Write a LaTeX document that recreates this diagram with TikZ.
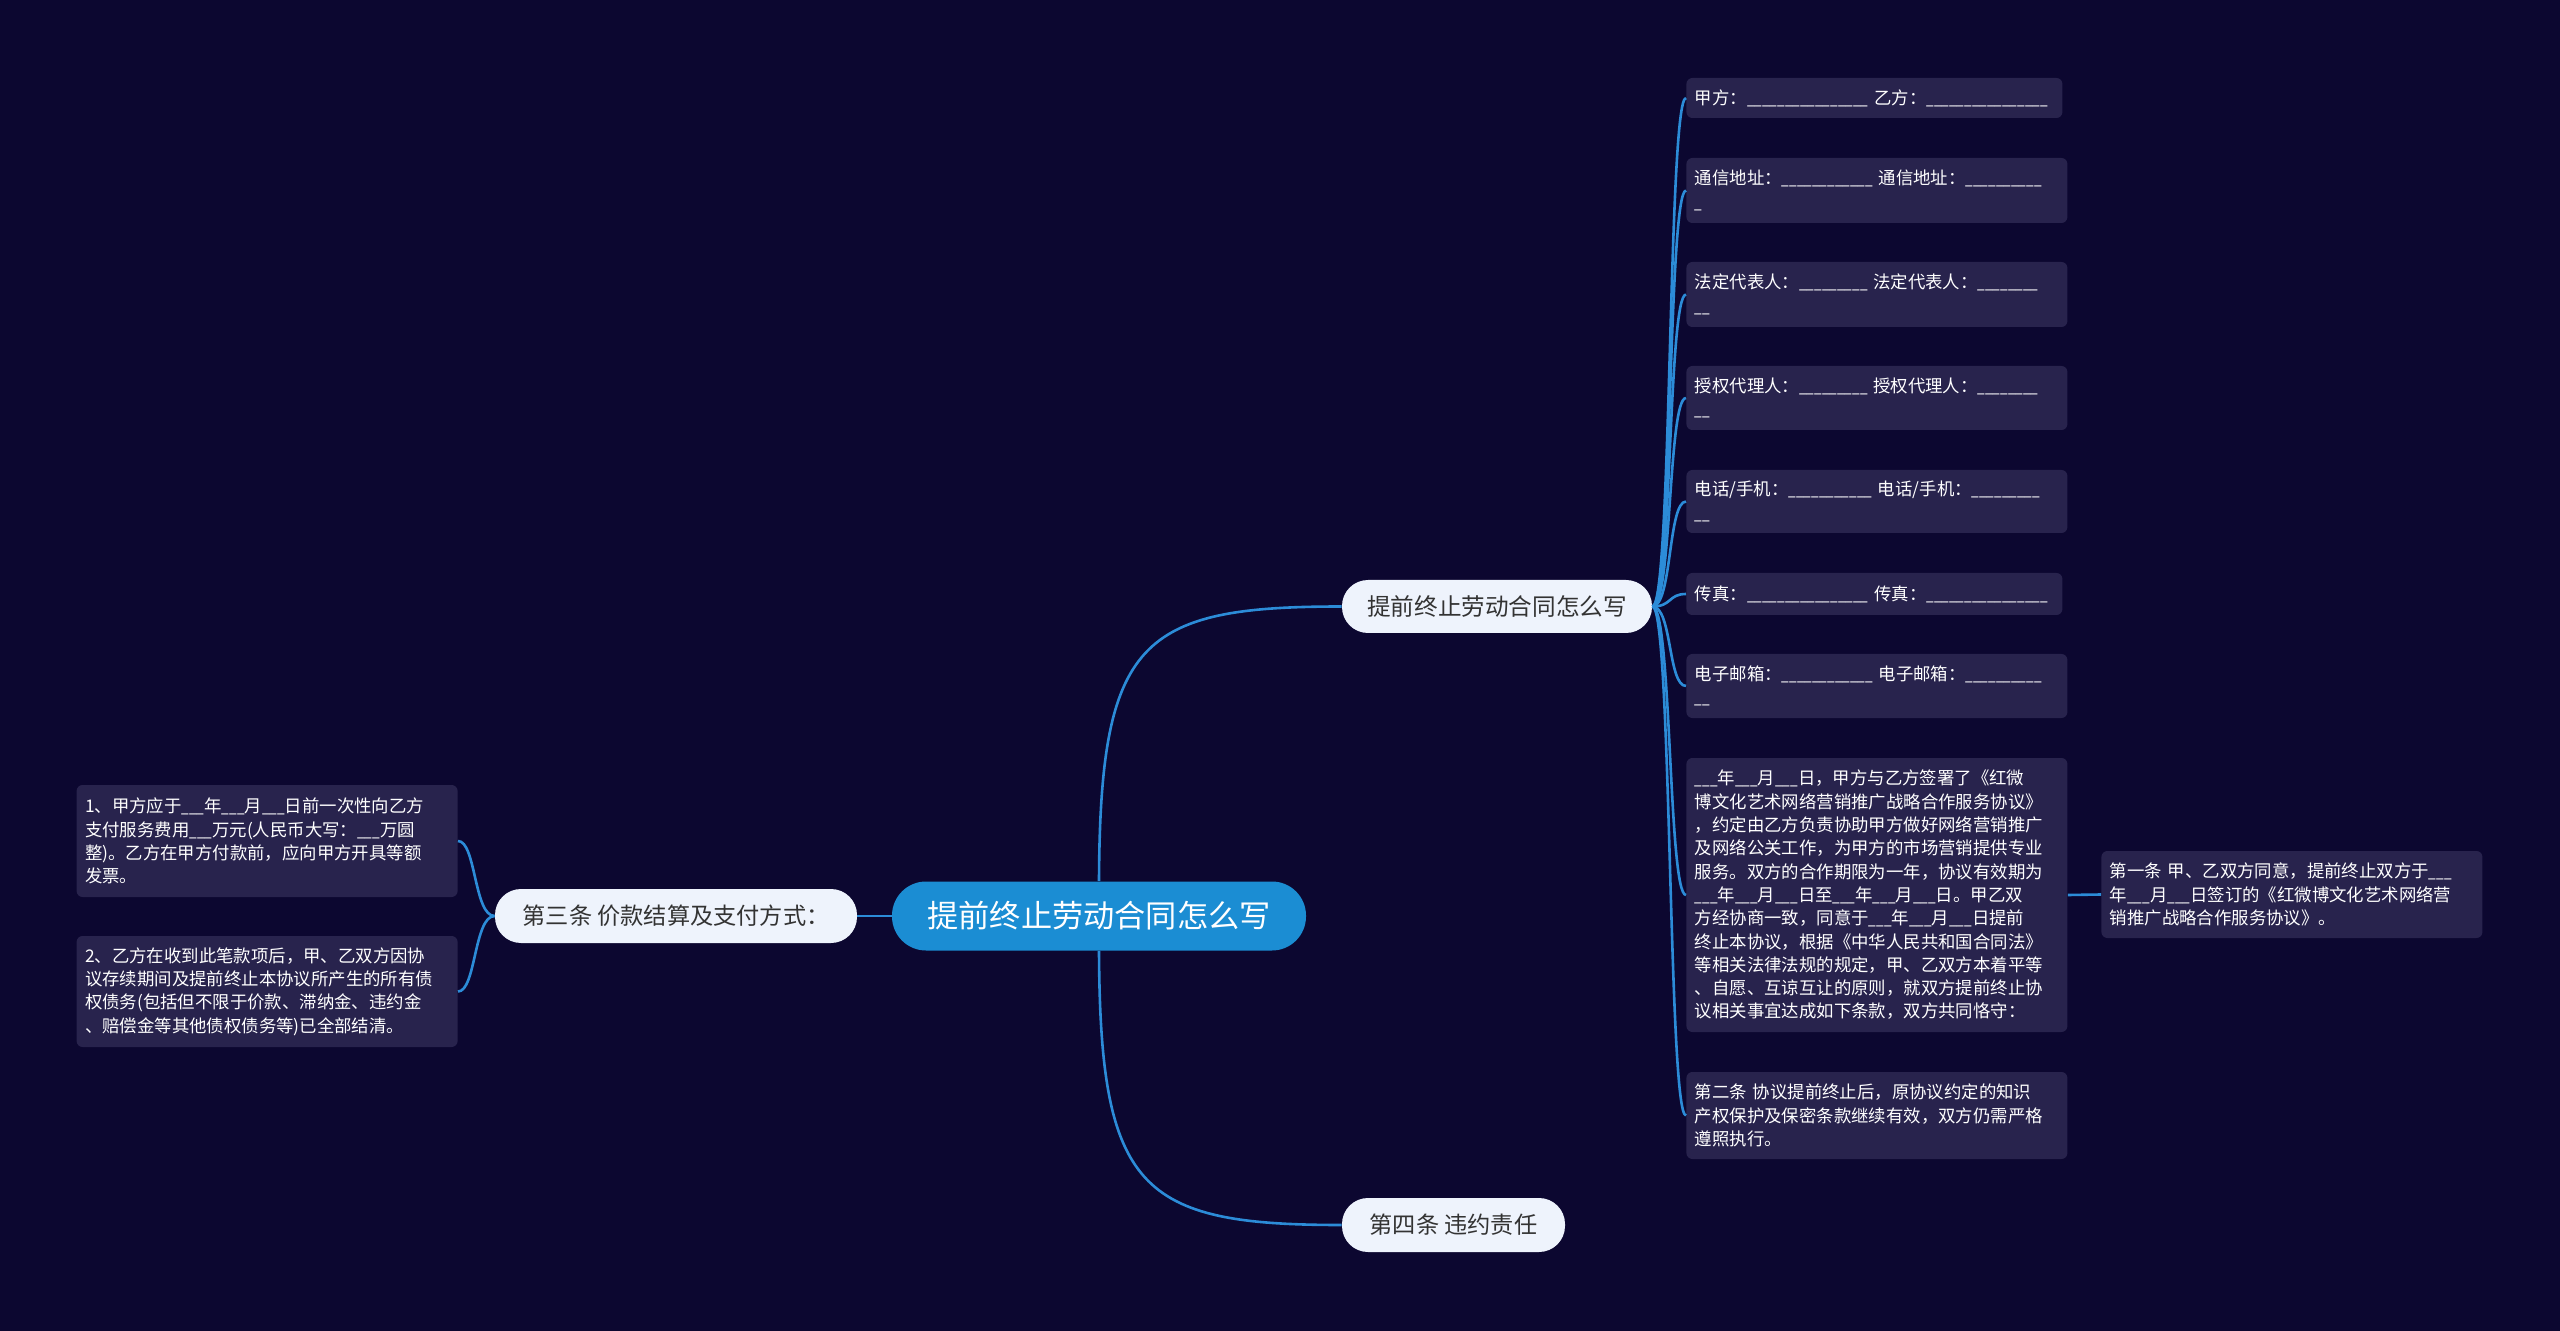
\documentclass[tikz,border=0pt]{standalone}
\usepackage{fontspec}
\setmainfont{Noto Sans CJK SC}
\newfontfamily\usfont[FakeStretch=0.78]{Noto Sans CJK SC}
\definecolor{bgc}{HTML}{0C0730}
\definecolor{boxc}{HTML}{28234D}
\definecolor{lightc}{HTML}{EEF3FC}
\definecolor{mainc}{HTML}{1B8DD3}
\definecolor{linec}{HTML}{2C8CD8}
\definecolor{darkt}{HTML}{333333}
\newcount\blankcnt
\newcommand\blanks[1]{{\usfont\blankcnt=0\relax\loop\_\advance\blankcnt by 1\relax\ifnum\blankcnt<#1\repeat}}
\newcommand\uu{\blanks{3}}
\tikzset{
  boxnode/.style={fill=boxc, text=white, rounded corners=3pt, align=left,
    inner xsep=4.25pt, inner ysep=3pt, text width=182pt,
    font=\fontsize{8.7}{11.65}\selectfont},
  lightnode/.style={fill=lightc, text=darkt, rounded corners=13pt, inner sep=0pt,
    minimum height=26.5pt},
  conn/.style={draw=linec, line width=1.3pt},
}
\begin{document}
\begin{tikzpicture}[x=0.5pt,y=-0.5pt]
\fill[bgc] (0,0) rectangle (2560,1331);

% central node
\node[fill=mainc, text=white, rounded corners=17pt, inner sep=0pt,
  minimum width=207pt, minimum height=34.5pt,
  font=\fontsize{15.6}{18}\selectfont] (c) at (1099,916) {提前终止劳动合同怎么写};

% level 1
\node[lightnode, minimum width=155pt, font=\fontsize{11.8}{14}\selectfont] (n1) at (1497,606.5) {提前终止劳动合同怎么写};
\node[lightnode, minimum width=181pt, minimum height=27pt, font=\fontsize{11.6}{14}\selectfont] (n3) at (676,916) {第三条 价款结算及支付方式：};
\node[lightnode, minimum width=111.5pt, minimum height=27pt, font=\fontsize{11.6}{14}\selectfont] (n4) at (1453.5,1225) {第四条 违约责任};

% right column boxes
\node[boxnode, anchor=west, text width=179.5pt, minimum height=20pt] (b1) at (1686,98)
  {甲方：\blanks{16} 乙方：\blanks{16}};
\node[boxnode, anchor=west, minimum height=32.5pt] (b2) at (1686,190.5)
  {通信地址：\blanks{12} 通信地址：\blanks{10}\\\blanks{1}};
\node[boxnode, anchor=west, minimum height=32.5pt] (b3) at (1686,294.5)
  {法定代表人：\blanks{9} 法定代表人：\blanks{8}\\\blanks{2}};
\node[boxnode, anchor=west, minimum height=32pt] (b4) at (1686,398)
  {授权代理人：\blanks{9} 授权代理人：\blanks{8}\\\blanks{2}};
\node[boxnode, anchor=west, minimum height=31.5pt] (b5) at (1686,501.5)
  {电话/手机：\blanks{11} 电话/手机：\blanks{9}\\\blanks{2}};
\node[boxnode, anchor=west, text width=179.5pt, minimum height=21pt] (b6) at (1686,594)
  {传真：\blanks{16} 传真：\blanks{16}};
\node[boxnode, anchor=west, minimum height=32pt] (b7) at (1686,686)
  {电子邮箱：\blanks{12} 电子邮箱：\blanks{10}\\\blanks{2}};
\node[boxnode, anchor=west, minimum height=137pt] (b8) at (1686,895)
  {\uu 年\uu 月\uu 日，甲方与乙方签署了《红微\\
   博文化艺术网络营销推广战略合作服务协议》\\
   ，约定由乙方负责协助甲方做好网络营销推广\\
   及网络公关工作，为甲方的市场营销提供专业\\
   服务。双方的合作期限为一年，协议有效期为\\
   \uu 年\uu 月\uu 日至\uu 年\uu 月\uu 日。甲乙双\\
   方经协商一致，同意于\uu 年\uu 月\uu 日提前\\
   终止本协议，根据《中华人民共和国合同法》\\
   等相关法律法规的规定，甲、乙双方本着平等\\
   、自愿、互谅互让的原则，就双方提前终止协\\
   议相关事宜达成如下条款，双方共同恪守：};
\node[boxnode, anchor=west, minimum height=43.5pt] (b9) at (1686,1115.5)
  {第二条 协议提前终止后，原协议约定的知识\\
   产权保护及保密条款继续有效，双方仍需严格\\
   遵照执行。};
\node[boxnode, anchor=west, minimum height=43.5pt] (r) at (2101,894.5)
  {第一条 甲、乙双方同意，提前终止双方于\uu\\
   年\uu 月\uu 日签订的《红微博文化艺术网络营\\
   销推广战略合作服务协议》。};

% left boxes
\node[boxnode, anchor=east, minimum height=56pt] (l1) at (458,841)
  {1、甲方应于\uu 年\uu 月\uu 日前一次性向乙方\\
   支付服务费用\uu 万元(人民币大写：\uu 万圆\\
   整)。乙方在甲方付款前，应向甲方开具等额\\
   发票。};
\node[boxnode, anchor=east, minimum height=55.5pt] (l2) at (458,991.5)
  {2、乙方在收到此笔款项后，甲、乙双方因协\\
   议存续期间及提前终止本协议所产生的所有债\\
   权债务(包括但不限于价款、滞纳金、违约金\\
   、赔偿金等其他债权债务等)已全部结清。};

% connectors
\draw[conn] (c.north) .. controls (1100,640) and (1140,606.5) .. (n1.west);
\draw[conn] (c.south) .. controls (1100,1190) and (1140,1225) .. (n4.west);
\draw[conn] (c.west) -- (n3.east);

\foreach \b in {b1,b2,b3,b4,b5,b6,b7,b8,b9}{
  \draw[conn] (n1.east) .. controls (1672,606.5) and ([xshift=-9pt]\b.west) .. (\b.west);
}
\draw[conn] (b8.east) -- (r.west);
\draw[conn] (n3.west) .. controls (474,916) and ([xshift=9pt]l1.east) .. (l1.east);
\draw[conn] (n3.west) .. controls (474,916) and ([xshift=9pt]l2.east) .. (l2.east);
\end{tikzpicture}
\end{document}
